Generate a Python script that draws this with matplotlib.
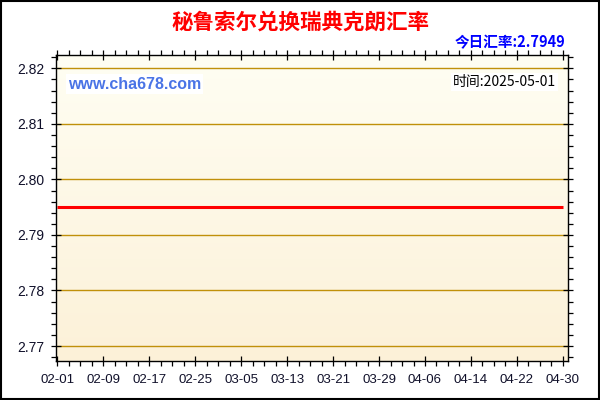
import matplotlib
matplotlib.use("Agg")
import matplotlib.pyplot as plt
import matplotlib.dates as mdates
import numpy as np
from matplotlib.patches import Rectangle
from matplotlib.ticker import FixedLocator, MultipleLocator

# data: the rate is flat over the whole period
dates = ["2025-02-01", "2025-02-09", "2025-02-17", "2025-02-25", "2025-03-05",
         "2025-03-13", "2025-03-21", "2025-03-29", "2025-04-06", "2025-04-14",
         "2025-04-22", "2025-04-30"]
rates = [2.795, 2.795, 2.795, 2.795, 2.795, 2.795,
         2.795, 2.795, 2.795, 2.795, 2.795, 2.795]
x_tick_labels = ["02-01", "02-09", "02-17", "02-25", "03-05", "03-13",
                 "03-21", "03-29", "04-06", "04-14", "04-22", "04-30"]
y_ticks = [2.77, 2.78, 2.79, 2.80, 2.81, 2.82]

title = "秘鲁索尔兑换瑞典克朗汇率"
today_rate = "今日汇率:2.7949"
site = "www.cha678.com"
stamp = "时间:2025-05-01"

CJK = ["Noto Sans CJK SC", "DejaVu Sans"]
LAT = ["Liberation Sans", "DejaVu Sans"]

x = mdates.datestr2num(dates)

fig = plt.figure(figsize=(6, 4), dpi=100)
fig.patch.set_facecolor("white")
ax = fig.add_axes([56 / 600, 1 - 361 / 400, 512 / 600, 306 / 400])

# soft ivory -> cream gradient behind the plot
grad = np.linspace(0, 1, 256)[:, None]
top = np.array([255, 254, 243]) / 255
bot = np.array([252, 241, 216]) / 255
img = top[None, None, :] * (1 - grad[:, :, None]) + bot[None, None, :] * grad[:, :, None]
ax.imshow(img, extent=[0, 1, 0, 1], transform=ax.transAxes,
          aspect="auto", zorder=0)

for yv in y_ticks:
    ax.axhline(yv, color="#C0900A", lw=1.0, zorder=1)

ax.plot(x, rates, color="#FF0000", lw=2.2, zorder=3, solid_capstyle="butt")

ax.set_xlim(x[0] - 0.25, x[-1] + 0.9)
ax.set_ylim(2.7673, 2.8224)

ax.xaxis.set_major_locator(FixedLocator(x))
ax.xaxis.set_minor_locator(MultipleLocator(2))
ax.set_xticklabels(x_tick_labels, fontfamily=LAT, fontsize=9.5)
ax.yaxis.set_major_locator(FixedLocator(y_ticks))
ax.yaxis.set_minor_locator(MultipleLocator(0.002))
ax.set_yticklabels([f"{v:.2f}" for v in y_ticks], fontfamily=LAT, fontsize=10)

ax.tick_params(which="both", top=True, right=True, color="black", width=0.9)
ax.tick_params(which="major", direction="inout", length=7, pad=5,
               labelcolor="#10102a")
ax.tick_params(axis="x", which="major", pad=6)
ax.tick_params(which="minor", direction="out", length=3.5)
for s in ax.spines.values():
    s.set_color("black")
    s.set_linewidth(1.0)
    s.set_zorder(4)

ax.text(12 / 512, 0.905, site, transform=ax.transAxes, ha="left", va="center",
        fontsize=11.5, fontweight="bold", color="#4A74E6", fontfamily=LAT,
        bbox=dict(facecolor="white", edgecolor="none", pad=1.5), zorder=5)
ax.text(500 / 512, 0.912, stamp, transform=ax.transAxes, ha="right", va="center",
        fontsize=10, color="black", fontfamily=CJK,
        bbox=dict(facecolor="white", edgecolor="none", pad=1.5), zorder=5)

fig.text(0.5, 1 - 22 / 400, title, ha="center", va="center", fontsize=15.5,
         fontweight="bold", color="#FF0000", fontfamily=CJK)
fig.text(565 / 600, 1 - 42 / 400, today_rate, ha="right", va="center",
         fontsize=10.5, fontweight="bold", color="#0000FF", fontfamily=CJK)

fig.patches.append(Rectangle((0.001, 0.002), 0.997, 0.996, transform=fig.transFigure,
                             fill=False, edgecolor="black", lw=1.5))

fig.savefig("out.png", dpi=100)
